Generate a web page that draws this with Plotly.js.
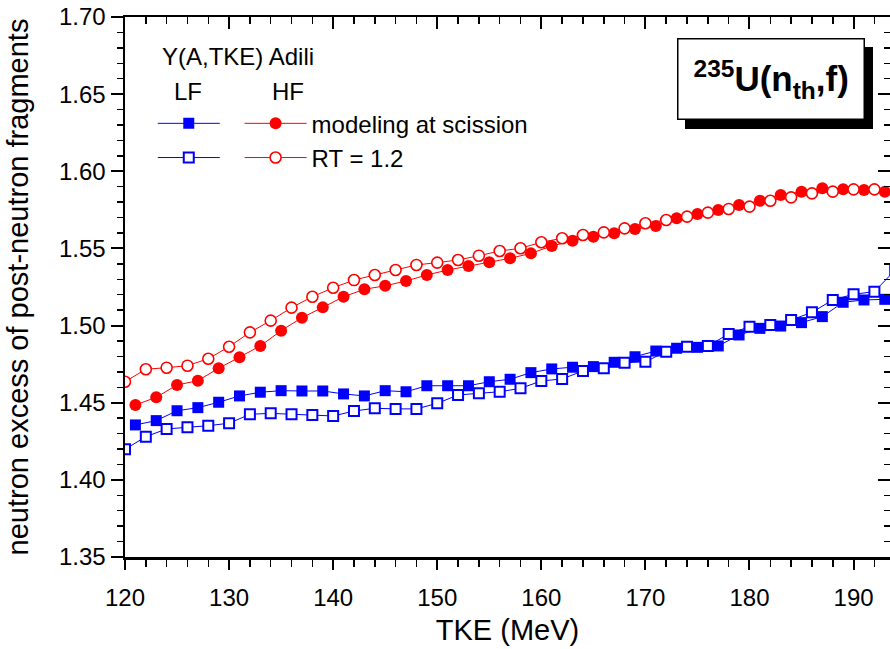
<!DOCTYPE html>
<html>
<head>
<meta charset="utf-8">
<script src="https://cdn.plot.ly/plotly-3.0.1.min.js"></script>
<style>html,body{margin:0;padding:0;background:#fff;}#chart{width:890px;height:649px;}</style>
</head>
<body>
<div id="chart"></div>
<script>
// TKE grids (MeV)
var tkeOdd = [121,123,125,127,129,131,133,135,137,139,141,143,145,147,149,151,153,155,157,159,161,163,165,167,169,171,173,175,177,179,181,183,185,187,189,191,193];
var tkeEven = [120,122,124,126,128,130,132,134,136,138,140,142,144,146,148,150,152,154,156,158,160,162,164,166,168,170,172,174,176,178,180,182,184,186,188,190,192,194];

// LF, modeling at scission (filled squares)
var lfScission = [1.4356,1.4384,1.4448,1.4468,1.4503,1.4544,1.4568,1.4578,1.4576,1.4576,1.4557,1.4544,1.4578,1.4571,1.4610,1.4610,1.4610,1.4636,1.4652,1.4695,1.4719,1.4730,1.4734,1.4762,1.4798,1.4835,1.4853,1.4859,1.4868,1.4939,1.4982,1.4997,1.5019,1.5058,1.5151,1.5166,1.5170];
// LF, RT = 1.2 (open squares)
var lfRT = [1.4198,1.4280,1.4330,1.4341,1.4351,1.4367,1.4425,1.4431,1.4425,1.4420,1.4414,1.4446,1.4464,1.4460,1.4460,1.4496,1.4550,1.4561,1.4571,1.4593,1.4641,1.4654,1.4706,1.4723,1.4759,1.4766,1.4831,1.4863,1.4868,1.4945,1.4993,1.5004,1.5036,1.5086,1.5166,1.5203,1.5220,1.5360];
// HF, modeling at scission (filled circles)
var hfScission = [1.4485,1.4535,1.4615,1.4643,1.4723,1.4794,1.4868,1.4967,1.5051,1.5118,1.5187,1.5235,1.5258,1.5289,1.5328,1.5360,1.5386,1.5410,1.5436,1.5468,1.5516,1.5550,1.5576,1.5598,1.5626,1.5645,1.5695,1.5723,1.5749,1.5781,1.5809,1.5846,1.5868,1.5890,1.5883,1.5879,1.5868];
// HF, RT = 1.2 (open circles)
var hfRT = [1.4636,1.4717,1.4727,1.4740,1.4785,1.4863,1.4956,1.5032,1.5116,1.5187,1.5245,1.5295,1.5328,1.5360,1.5393,1.5408,1.5425,1.5453,1.5483,1.5501,1.5540,1.5566,1.5587,1.5604,1.5630,1.5663,1.5684,1.5706,1.5732,1.5756,1.5771,1.5809,1.5831,1.5857,1.5868,1.5883,1.5883];

var xRange = [120, 193.5];
var yRange = [1.35, 1.70];
var xTicks = [120,130,140,150,160,170,180,190];
var yTicks = [1.35,1.40,1.45,1.50,1.55,1.60,1.65,1.70];

var BLUE = '#0000ff', RED = '#ff0000';
var FONT = 'Liberation Sans, Arial, sans-serif';

var traces = [
  {x: tkeOdd, y: lfScission, type: 'scatter', mode: 'lines+markers', name: '',
   legend: 'legend', legendgroup: 'a',
   line: {color: BLUE, width: 1}, marker: {symbol: 'square', size: 11, color: BLUE}},
  {x: tkeEven, y: lfRT, type: 'scatter', mode: 'lines+markers', name: '',
   legend: 'legend', legendgroup: 'b',
   line: {color: BLUE, width: 1}, marker: {symbol: 'square', size: 10, color: '#fff', line: {color: BLUE, width: 2}}},
  {x: tkeOdd, y: hfScission, type: 'scatter', mode: 'lines+markers', name: 'modeling at scission',
   legend: 'legend2', legendgroup: 'c',
   line: {color: RED, width: 1}, marker: {symbol: 'circle', size: 12, color: RED}},
  {x: tkeEven.slice(0, hfRT.length), y: hfRT, type: 'scatter', mode: 'lines+markers', name: 'RT = 1.2',
   legend: 'legend2', legendgroup: 'd',
   line: {color: RED, width: 1}, marker: {symbol: 'circle', size: 11, color: '#fff', line: {color: RED, width: 1.6}}},
  // carrier for the mirrored top/right axes (not drawn)
  {x: tkeOdd, y: lfScission, xaxis: 'x2', yaxis: 'y2', type: 'scatter', mode: 'none',
   showlegend: false, hoverinfo: 'skip'}
];

var axisCommon = {showgrid: false, zeroline: false, showline: true, linecolor: '#000', linewidth: 2.5,
  tickcolor: '#000', tickwidth: 2, tickfont: {family: FONT, size: 24, color: '#000'}};

var layout = {
  width: 890, height: 649,
  margin: {l: 125, r: 0, t: 17, b: 92},
  paper_bgcolor: '#fff', plot_bgcolor: '#fff',
  font: {family: FONT, color: '#000'},
  showlegend: true,
  xaxis: Object.assign({}, axisCommon, {
    range: xRange, tickmode: 'array', tickvals: xTicks, ticks: 'outside', ticklen: 10, ticklabelstandoff: 8,
    automargin: true,
    minor: {dtick: 2, ticks: 'outside', ticklen: 7, tickwidth: 1.5, tickcolor: '#000', showgrid: false},
    title: {text: 'TKE (MeV)', font: {family: FONT, size: 29, color: '#000'}, standoff: 10}
  }),
  yaxis: Object.assign({}, axisCommon, {
    range: yRange, tickmode: 'array', tickvals: yTicks, tickformat: '.2f', ticks: 'outside', ticklen: 12,
    automargin: true,
    minor: {dtick: 0.01, ticks: 'outside', ticklen: 6, tickwidth: 1.5, tickcolor: '#000', showgrid: false},
    title: {text: 'neutron excess of post-neutron fragments', font: {family: FONT, size: 29, color: '#000'}, standoff: 22}
  }),
  xaxis2: Object.assign({}, axisCommon, {
    overlaying: 'x', side: 'top', anchor: 'y2', matches: 'x', range: xRange,
    tickmode: 'array', tickvals: xTicks, ticks: 'inside', ticklen: 12, showticklabels: false,
    minor: {dtick: 2, ticks: 'inside', ticklen: 7, tickwidth: 1.5, tickcolor: '#000', showgrid: false}
  }),
  yaxis2: Object.assign({}, axisCommon, {
    overlaying: 'y', side: 'right', anchor: 'x2', matches: 'y', range: yRange,
    tickmode: 'array', tickvals: yTicks, ticks: 'inside', ticklen: 12, showticklabels: false,
    minor: {dtick: 0.01, ticks: 'inside', ticklen: 6, tickwidth: 1.5, tickcolor: '#000', showgrid: false}
  }),
  legend: {x: 0.0363, y: 0.844, xanchor: 'left', yanchor: 'top', bgcolor: 'rgba(0,0,0,0)',
    itemwidth: 62, tracegroupgap: 0, font: {family: FONT, size: 24, color: '#000'}, itemclick: false},
  legend2: {x: 0.1498, y: 0.844, xanchor: 'left', yanchor: 'top', bgcolor: 'rgba(0,0,0,0)',
    itemwidth: 62, tracegroupgap: 0, font: {family: FONT, size: 24, color: '#000'}, itemclick: false},
  annotations: [
    {xref: 'paper', yref: 'paper', x: 0.046, y: 0.926, xanchor: 'left', yanchor: 'middle', showarrow: false,
     text: 'Y(A,TKE) Adili', font: {family: FONT, size: 24, color: '#000'}},
    {xref: 'paper', yref: 'paper', x: 0.082, y: 0.862, xanchor: 'center', yanchor: 'middle', showarrow: false,
     text: 'LF', font: {family: FONT, size: 24, color: '#000'}},
    {xref: 'paper', yref: 'paper', x: 0.213, y: 0.862, xanchor: 'center', yanchor: 'middle', showarrow: false,
     text: 'HF', font: {family: FONT, size: 24, color: '#000'}},
    // shadow of the reaction box
    {xref: 'paper', yref: 'paper', x: 0.845, y: 0.886, xanchor: 'center', yanchor: 'middle', showarrow: false,
     xshift: 8, yshift: -9,
     text: '<b><sup>235</sup>U(n<sub>th</sub>,f)</b>', font: {family: FONT, size: 35, color: '#000'},
     bgcolor: '#000', bordercolor: '#000', borderwidth: 1.5, borderpad: 15},
    {xref: 'paper', yref: 'paper', x: 0.845, y: 0.886, xanchor: 'center', yanchor: 'middle', showarrow: false,
     text: '<b><sup>235</sup>U(n<sub>th</sub>,f)</b>', font: {family: FONT, size: 35, color: '#000'},
     bgcolor: '#fff', bordercolor: '#000', borderwidth: 1.5, borderpad: 15}
  ]
};

Plotly.newPlot('chart', traces, layout, {displayModeBar: false, staticPlot: true});
</script>
</body>
</html>
